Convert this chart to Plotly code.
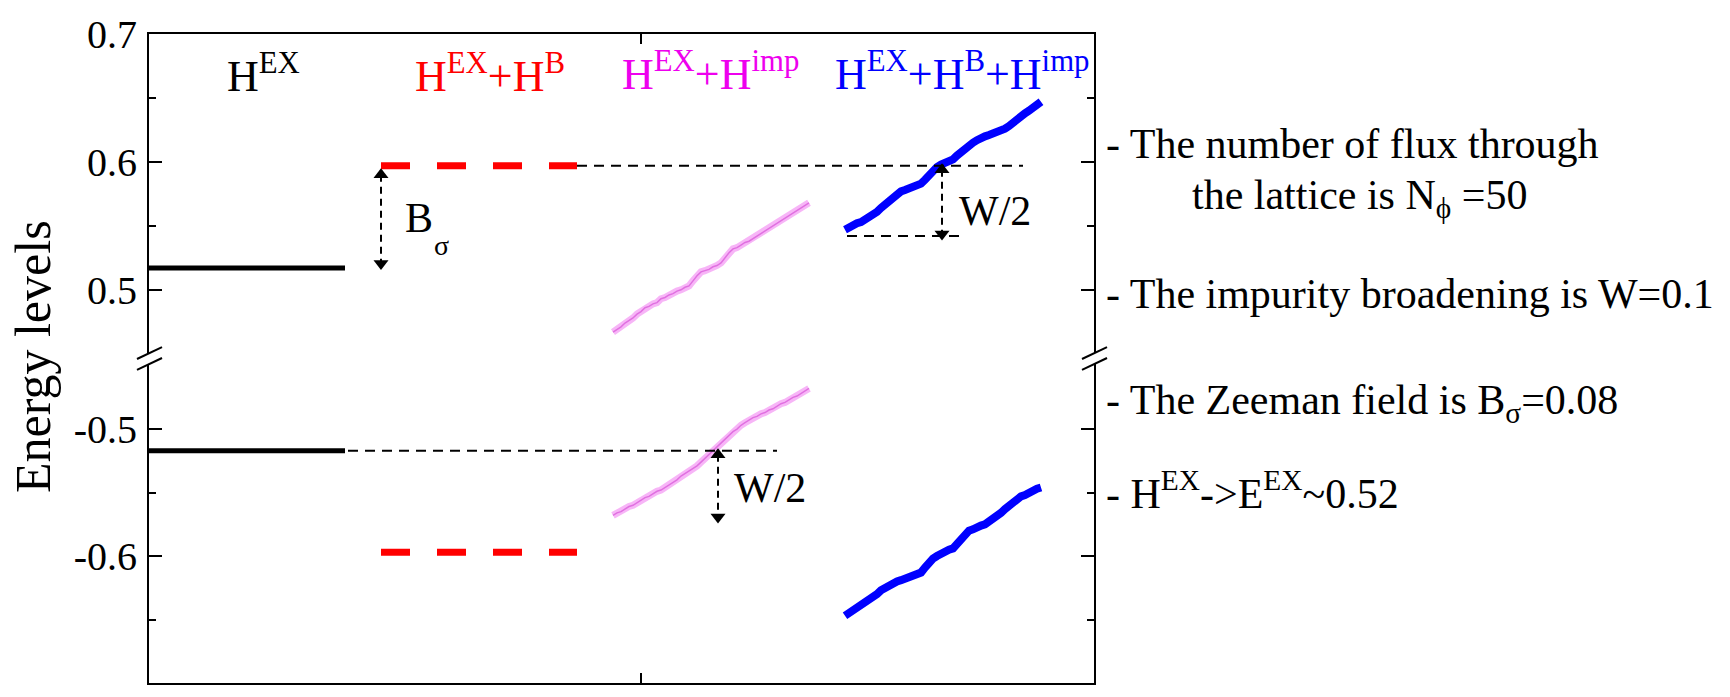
import plotly.graph_objects as go

FONT = "Liberation Serif, Times New Roman, serif"

# ---------------- data ----------------
n_levels = 50
group_start = [0, 58, 116, 174]          # x index where each Hamiltonian's 50 levels start
x_mid_tick = [123]

E_ex = 0.517        # H^EX level (±)
E_exB = 0.597       # H^EX + H^B level (±)

# H^EX + H^imp (upper band, lower band)
mag_up = [0.467, 0.469, 0.471, 0.474, 0.476, 0.478, 0.481, 0.483, 0.486, 0.487,
          0.489, 0.490, 0.493, 0.494, 0.496, 0.497, 0.499, 0.500, 0.502, 0.503,
          0.507, 0.511, 0.514, 0.515, 0.516, 0.518, 0.519, 0.521, 0.525, 0.529,
          0.532, 0.533, 0.535, 0.537, 0.538, 0.540, 0.542, 0.544, 0.546, 0.548,
          0.550, 0.552, 0.554, 0.556, 0.558, 0.560, 0.562, 0.564, 0.566, 0.568]
mag_lo = [-0.568, -0.566, -0.565, -0.563, -0.561, -0.560, -0.558, -0.556, -0.554, -0.553,
          -0.551, -0.549, -0.548, -0.546, -0.544, -0.542, -0.540, -0.537, -0.535, -0.533,
          -0.531, -0.529, -0.526, -0.523, -0.520, -0.517, -0.514, -0.511, -0.508, -0.505,
          -0.502, -0.500, -0.497, -0.495, -0.493, -0.491, -0.490, -0.488, -0.487, -0.485,
          -0.484, -0.482, -0.480, -0.479, -0.477, -0.475, -0.474, -0.472, -0.470, -0.468]
# H^EX + H^B + H^imp
blue_up = [0.547, 0.549, 0.550, 0.552, 0.553, 0.555, 0.556, 0.558, 0.561, 0.564,
           0.567, 0.570, 0.573, 0.575, 0.577, 0.578, 0.579, 0.580, 0.582, 0.583,
           0.586, 0.590, 0.594, 0.596, 0.598, 0.599, 0.601, 0.602, 0.605, 0.608,
           0.610, 0.612, 0.615, 0.617, 0.619, 0.620, 0.621, 0.622, 0.624, 0.625,
           0.626, 0.628, 0.631, 0.633, 0.636, 0.638, 0.640, 0.642, 0.645, 0.647]
blue_lo = [-0.647, -0.645, -0.643, -0.641, -0.639, -0.637, -0.635, -0.633, -0.630, -0.627,
           -0.625, -0.624, -0.622, -0.620, -0.619, -0.618, -0.617, -0.615, -0.614, -0.613,
           -0.609, -0.605, -0.602, -0.600, -0.598, -0.597, -0.595, -0.594, -0.590, -0.586,
           -0.582, -0.580, -0.579, -0.577, -0.576, -0.575, -0.573, -0.570, -0.568, -0.566,
           -0.563, -0.560, -0.557, -0.555, -0.553, -0.552, -0.550, -0.549, -0.547, -0.546]

# reference dashed lines: (panel, y, x_from, x_to)
ref_lines = [("up", 0.597, 107, 218.5),
             ("lo", -0.517, 49.75, 157),
             ("up", 0.542, 174.5, 204)]
# double arrows: (panel, x, y_top_tip, y_bottom_tip)
arrows = [("up", 58, 0.590, 0.5205),
          ("lo", 142.25, -0.5202, -0.5693),
          ("up", 198.25, 0.5938, 0.5436)]

upper_ticks = [0.5, 0.6, 0.7]
lower_ticks = [-0.7, -0.6, -0.5]
upper_minor = [0.55, 0.65]
lower_minor = [-0.65, -0.55]

# ---------------- geometry helpers ----------------
W, H = 1730, 697
L, R, T, B = 149, 1094, 26, 683


def px(x):
    return (x - L) / (R - L)


def py(y):
    return (B - y) / (B - T)


fig = go.Figure()
ax = {"up": dict(xaxis="x2", yaxis="y2"), "lo": dict(xaxis="x", yaxis="y")}
idx = list(range(n_levels))


def xs(g):
    return [group_start[g] + i for i in idx]


# H^EX (black)
for p, s in (("up", 1), ("lo", -1)):
    fig.add_trace(go.Scatter(x=[xs(0)[0], xs(0)[-1]], y=[s * E_ex, s * E_ex], mode="lines",
                             line=dict(color="black", width=5), **ax[p]))
# H^EX + H^B (red dashed)
for p, s in (("up", 1), ("lo", -1)):
    fig.add_trace(go.Scatter(x=[xs(1)[0], xs(1)[-1]], y=[s * E_exB, s * E_exB], mode="lines",
                             line=dict(color="#ff0000", width=7, dash="29px,27px"), **ax[p]))
# H^EX + H^imp (magenta, fuzzy)
for p, ys in (("up", mag_up), ("lo", mag_lo)):
    fig.add_trace(go.Scatter(x=xs(2), y=ys, mode="lines",
                             line=dict(color="rgba(244,150,244,0.7)", width=7), **ax[p]))
    fig.add_trace(go.Scatter(x=xs(2), y=ys, mode="lines",
                             line=dict(color="#e070e0", width=1.5), **ax[p]))
# H^EX + H^B + H^imp (blue)
for p, ys in (("up", blue_up), ("lo", blue_lo)):
    fig.add_trace(go.Scatter(x=xs(3), y=ys, mode="lines",
                             line=dict(color="#0000ff", width=8), **ax[p]))
# reference dashed lines
for p, y, x0, x1 in ref_lines:
    fig.add_trace(go.Scatter(x=[x0, x1], y=[y, y], mode="lines",
                             line=dict(color="black", width=2, dash="10px,7px"), **ax[p]))
# arrows
for p, x, ytop, ybot in arrows:
    fig.add_trace(go.Scatter(x=[x, x], y=[ytop, ybot], mode="lines",
                             line=dict(color="black", width=2, dash="7px,5px"), **ax[p]))
    fig.add_trace(go.Scatter(x=[x, x], y=[ytop, ybot], mode="markers",
                             marker=dict(symbol=["triangle-up", "triangle-down"], size=13,
                                         color="black"), **ax[p]))

# ---------------- axes ----------------
common_y = dict(showline=True, linewidth=2, linecolor="black", mirror="ticks",
                ticks="inside", ticklen=13, tickwidth=2, tickcolor="black",
                showgrid=False, zeroline=False,
                tickfont=dict(family=FONT, size=40, color="black"),
                ticklabelstandoff=2)
common_x = dict(domain=[0, 1], range=[0, (R - L) / 4], showline=True, linewidth=2,
                linecolor="black", ticks="inside", ticklen=10, tickwidth=2,
                tickcolor="black", tickvals=x_mid_tick, showticklabels=False,
                showgrid=False, zeroline=False)
fig.update_layout(
    width=W, height=H, margin=dict(l=L, r=W - R, t=T, b=H - B),
    paper_bgcolor="white", plot_bgcolor="white", showlegend=False,
    xaxis=dict(anchor="y", side="bottom", **common_x),
    xaxis2=dict(anchor="y2", side="top", **common_x),
    yaxis=dict(domain=[0, 0.5], anchor="x", range=[-0.7, -0.4444],
               tickvals=lower_ticks, ticktext=["-0.7", "-0.6", "-0.5"],
               minor=dict(tickvals=lower_minor, ticks="inside", ticklen=7, tickwidth=2,
                          tickcolor="black"), **common_y),
    yaxis2=dict(domain=[0.5, 1], anchor="x2", range=[0.4463, 0.7],
                tickvals=upper_ticks, ticktext=["0.5", "0.6", "0.7"],
                minor=dict(tickvals=upper_minor, ticks="inside", ticklen=7, tickwidth=2,
                           tickcolor="black"), **common_y),
)

# ---------------- axis break marks ----------------
shapes = []
for axx in (L, R):
    x0, x1 = axx - 12, axx + 13
    pts = [(x0, 355), (x1, 343), (x1, 354), (x0, 366)]
    path = "M " + " L ".join(f"{px(a):.5f},{py(b):.5f}" for a, b in pts) + " Z"
    shapes.append(dict(type="path", path=path, xref="paper", yref="paper",
                       fillcolor="white", line=dict(width=0), layer="above"))
    for ya, yb in ((355, 343), (366, 354)):
        shapes.append(dict(type="line", xref="paper", yref="paper",
                           x0=px(x0), y0=py(ya), x1=px(x1), y1=py(yb),
                           line=dict(color="black", width=2), layer="above"))
fig.update_layout(shapes=shapes)

# ---------------- text ----------------
ann = []


def text(x, y, s, size, color="black", xanchor="center", yanchor="middle", angle=0):
    ann.append(dict(x=px(x), y=py(y), xref="paper", yref="paper", text=s, showarrow=False,
                    xanchor=xanchor, yanchor=yanchor, textangle=angle,
                    font=dict(family=FONT, size=size, color=color)))


text(263, 66, "H<sup>EX</sup>", 44, "black")
text(490, 66, "H<sup>EX</sup>+H<sup>B</sup>", 44, "#ff0000")
text(710, 64, "H<sup>EX</sup>+H<sup>imp</sup>", 44, "#ee00ee")
text(962, 64, "H<sup>EX</sup>+H<sup>B</sup>+H<sup>imp</sup>", 44, "#0000ff")

text(403, 212, "B", 42, xanchor="left")
text(432, 240, "σ", 28, xanchor="left")
text(732, 486, "W/2", 42, xanchor="left")
text(957, 205, "W/2", 42, xanchor="left")

text(33, 353, "Energy levels", 50, angle=-90)

text(1104, 137, "- The number of flux through", 42, xanchor="left")
text(1190, 192, "the lattice is N<sub>ϕ</sub> =50", 42, xanchor="left")
text(1104, 289, "- The impurity broadening is W=0.1", 42, xanchor="left")
text(1104, 400, "- The Zeeman field is B<sub>σ</sub>=0.08", 42, xanchor="left")
text(1104, 488, "- H<sup>EX</sup>-&gt;E<sup>EX</sup>~0.52", 42, xanchor="left")
fig.update_layout(annotations=ann)

fig.write_html("out.html")
